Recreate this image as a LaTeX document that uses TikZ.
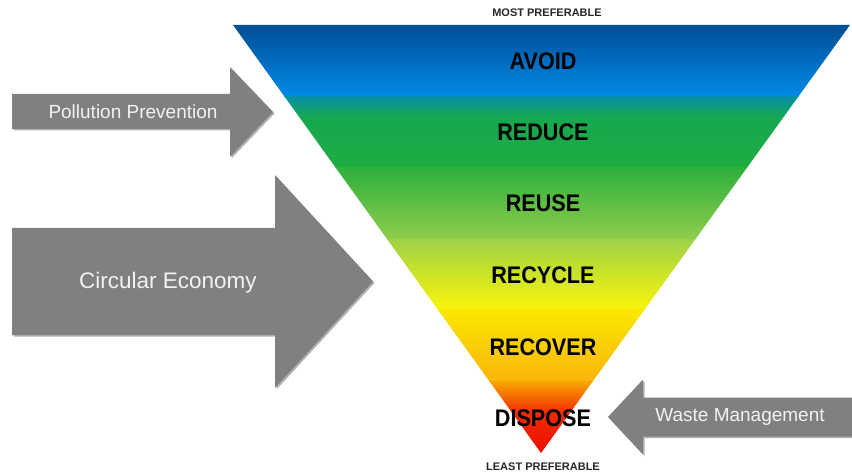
\documentclass[tikz,border=0pt]{standalone}
\usepackage{fontspec}
\setmainfont{Liberation Sans}
\usetikzlibrary{shadows}
\definecolor{arrowgray}{RGB}{128,128,128}
\definecolor{arrowtextc}{RGB}{242,242,242}
\definecolor{bA}{RGB}{0,78,150}
\definecolor{bB}{RGB}{0,115,210}
\definecolor{bC}{RGB}{0,138,232}
\definecolor{gA}{RGB}{5,145,165}
\definecolor{gB}{RGB}{22,168,80}
\definecolor{gC}{RGB}{30,172,64}
\definecolor{lA}{RGB}{45,176,60}
\definecolor{lB}{RGB}{145,206,75}
\definecolor{yA}{RGB}{160,210,70}
\definecolor{yB}{RGB}{230,238,40}
\definecolor{yC}{RGB}{250,245,10}
\definecolor{oA}{RGB}{250,232,0}
\definecolor{oB}{RGB}{250,195,0}
\definecolor{oC}{RGB}{250,180,10}
\definecolor{rA}{RGB}{250,165,0}
\definecolor{rB}{RGB}{242,45,0}
\definecolor{rC}{RGB}{235,5,0}
\newcommand\lvltxt[1]{\scalebox{0.9}[1]{#1}}
\tikzset{
  grayarrow/.style={fill=arrowgray, drop shadow={shadow xshift=1.5pt, shadow yshift=-1.5pt, opacity=0.3, fill=black}},
  arrowtext/.style={text=arrowtextc, font=\fontsize{19}{22}\selectfont, inner sep=0pt},
  leveltext/.style={text=black, font=\fontsize{24}{28}\selectfont\bfseries, inner sep=0pt},
  preftext/.style={text=black!85, font=\fontsize{11}{13}\selectfont\bfseries, inner sep=0pt}
}
\begin{document}
\begin{tikzpicture}[x=1pt,y=1pt]
\useasboundingbox (0,0) rectangle (852,472);
% pyramid
\begin{scope}
  \clip (233,447) -- (850,447) -- (541,19) -- cycle;
  \shade[top color=bA, middle color=bB, bottom color=bC] (220,375) rectangle (860,447);
  \shade[top color=gA, bottom color=gB] (220,355) rectangle (860,375);
  \shade[top color=gB, bottom color=gC] (220,304) rectangle (860,355.2);
  \shade[top color=lA, bottom color=lB] (220,232) rectangle (860,304.2);
  \shade[top color=yA, middle color=yB, bottom color=yC] (220,162) rectangle (860,232.2);
  \shade[top color=oA, middle color=oB, bottom color=oC] (220,90) rectangle (860,162.2);
  \shade[top color=rA, bottom color=rB] (220,60) rectangle (860,90.2);
  \shade[top color=rB, bottom color=rC] (220,10) rectangle (860,60.2);
\end{scope}
\node[leveltext] (avoid) at (543,411) {\lvltxt{AVOID}};
\node[leveltext] (reduce) at (543,340) {\lvltxt{REDUCE}};
\node[leveltext] (reuse) at (543,269) {\lvltxt{REUSE}};
\node[leveltext] (recycle) at (543,197) {\lvltxt{RECYCLE}};
\node[leveltext] (recover) at (543,125) {\lvltxt{RECOVER}};
\node[leveltext] (dispose) at (543,54) {\lvltxt{DISPOSE}};
\node[preftext] (most) at (547,459) {MOST PREFERABLE};
\node[preftext] (least) at (543,5) {LEAST PREFERABLE};
% arrows
\path[grayarrow] (12,378) -- (230,378) -- (230,405) -- (273,360) -- (230,315) -- (230,343) -- (12,343) -- cycle;
\node[arrowtext] (pp) at (133,360) {Pollution Prevention};
\path[grayarrow] (12,244) -- (275,244) -- (275,297) -- (373,190.5) -- (275,84) -- (275,137) -- (12,137) -- cycle;
\node[arrowtext, font=\fontsize{22.5}{26}\selectfont] (ce) at (168,189) {Circular Economy};
\path[grayarrow] (852,74.5) -- (643,74.5) -- (643,92.5) -- (608,55) -- (643,17.5) -- (643,35.5) -- (852,35.5) -- cycle;
\node[arrowtext] (wm) at (740,55) {Waste Management};
\end{tikzpicture}
\end{document}
